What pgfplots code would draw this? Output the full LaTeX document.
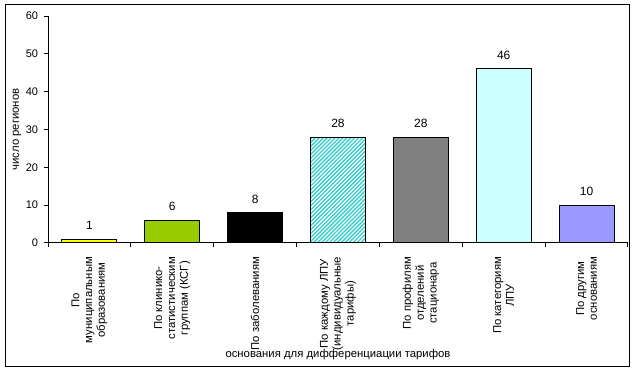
\documentclass[border=0pt]{standalone}
\usepackage{pgfplots}
\pgfplotsset{compat=1.18}
\usepackage{fontspec}
\setmainfont{Liberation Sans}
\usetikzlibrary{patterns.meta}
\definecolor{cyel}{RGB}{255,255,0}
\definecolor{cgrn}{RGB}{153,204,0}
\definecolor{chat}{RGB}{51,204,204}
\definecolor{cgry}{RGB}{128,128,128}
\definecolor{ccya}{RGB}{204,255,255}
\definecolor{cblu}{RGB}{153,153,255}
\begin{document}
\fontsize{8.25}{9.5}\selectfont
\begin{tikzpicture}
\useasboundingbox (0,0) rectangle (477.75pt,280.5pt);
\draw[line width=0.75pt] (3.75pt,5.25pt) rectangle (471.75pt,276.75pt);
\begin{axis}[
  at={(36pt,98.25pt)}, anchor=south west,
  scale only axis, width=435pt, height=170.25pt,
  xmin=-0.5, xmax=6.5, ymin=0, ymax=60,
  axis x line*=bottom, axis y line*=left,
  axis line style={line width=0.75pt},
  ytick={0,10,...,60},
  xtick={0,...,6},
  minor xtick={-0.5,0.5,...,6.5},
  tick align=outside,
  major tick length=3pt, minor tick length=3pt,
  major x tick style={draw=none},
  tick style={black, line width=0.75pt},
  /pgf/number format/assume math mode=true,
  yticklabel style={xshift=-1.5pt, font=\fontsize{8.25}{9.5}\selectfont},
  xticklabels={{По\\муниципальным\\образованиям},{По клинико-\\статистическим\\группам (КСГ)},{По заболеваниям},{По каждому ЛПУ\\(индивидуальные\\тарифы)},{По профилям\\отделений\\стационара},{По категориям\\ЛПУ},{По другим\\основаниям}},
  xticklabel style={rotate=90, anchor=east, align=center, font=\fontsize{8.5}{9.6}\selectfont},
  xticklabel shift=4.5pt,
  ylabel={число регионов},
  ylabel style={at={(axis description cs:-0.0534,0.5)}, anchor=center, font=\fontsize{8.5}{9.5}\selectfont},
  xlabel={основания для дифференциации тарифов},
  xlabel style={at={(axis description cs:0.5,-0.4934)}, anchor=center, font=\fontsize{8.5}{9.5}\selectfont},
  nodes near coords,
  every node near coord/.append style={font=\fontsize{9}{9.5}\selectfont, anchor=south, yshift=4pt},
  clip=false,
]
\addplot[ybar, bar width=41.25pt, draw=black, line width=0.75pt, fill=cyel] coordinates {(0,1)};
\addplot[ybar, bar width=41.25pt, draw=black, line width=0.75pt, fill=cgrn] coordinates {(1,6)};
\addplot[ybar, bar width=41.25pt, draw=black, line width=0.75pt, fill=black] coordinates {(2,8)};
\addplot[ybar, bar width=41.25pt, draw=black, line width=0.75pt, fill=white, postaction={pattern={Lines[angle=45,distance=2.1pt,line width=1pt]}, pattern color=chat}] coordinates {(3,28)};
\addplot[ybar, bar width=41.25pt, draw=black, line width=0.75pt, fill=cgry] coordinates {(4,28)};
\addplot[ybar, bar width=41.25pt, draw=black, line width=0.75pt, fill=ccya] coordinates {(5,46)};
\addplot[ybar, bar width=41.25pt, draw=black, line width=0.75pt, fill=cblu] coordinates {(6,10)};
\end{axis}
\end{tikzpicture}
\end{document}
